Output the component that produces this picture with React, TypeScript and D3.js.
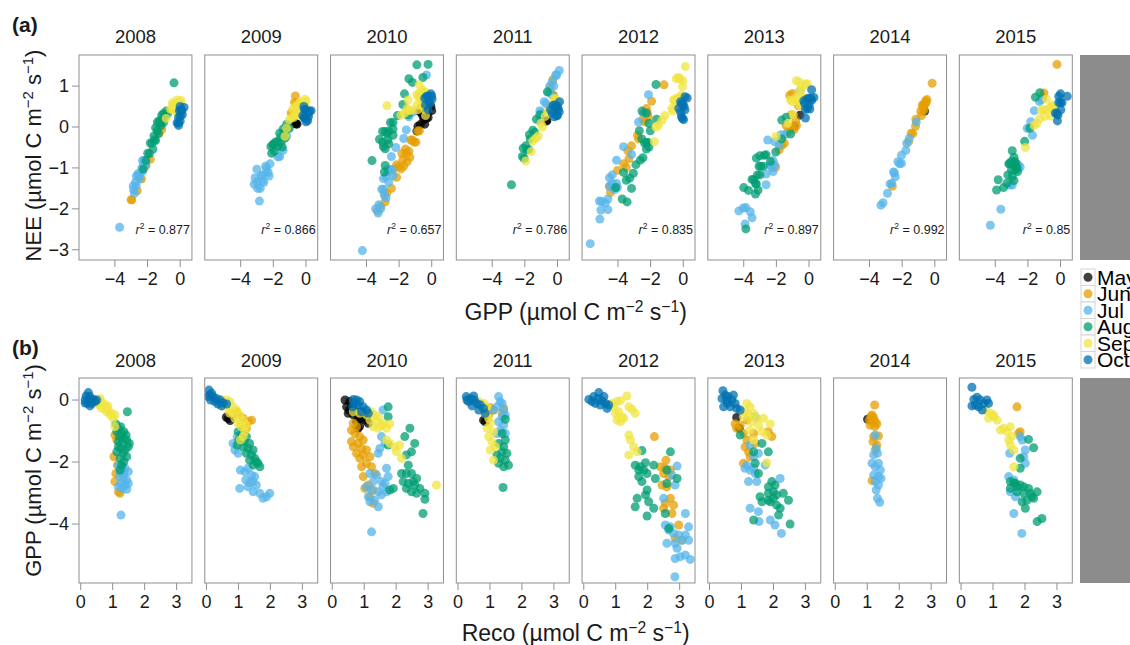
import React from "react";
import * as d3 from "d3";

// month, GPP, Reco, NEE  (µmol C m-2 s-1)
type Obs = [string, number, number, number];

const months = ["May", "Jun", "Jul", "Aug", "Sep", "Oct"];
const monthColors = ["#000000", "#E69F00", "#56B4E9", "#009E73", "#F0E442", "#0072B2"];
const years = [2008, 2009, 2010, 2011, 2012, 2013, 2014, 2015];
const r2Labels = ["0.877", "0.866", "0.657", "0.786", "0.835", "0.897", "0.992", "0.85"];
const neeTicks = [1, 0, -1, -2, -3];
const gppTicksTop = [-4, -2, 0];
const gppTicksBottom = [0, -2, -4];
const recoTicks = [0, 1, 2, 3];

const obs2008: Obs[] = [
  ["Oct", 0.24, 0.24, 0.48], ["Oct", 0.13, 0.17, 0.3], ["Oct", 0.11, 0.29, 0.4], ["Oct", 0.0, 0.14, 0.14],
  ["Oct", 0.0, 0.27, 0.27], ["Oct", 0.02, 0.4, 0.42], ["Oct", -0.11, 0.21, 0.1], ["Oct", -0.11, 0.34, 0.23],
  ["Oct", -0.1, 0.14, 0.04], ["Oct", -0.05, 0.45, 0.4], ["Oct", -0.19, 0.29, 0.1], ["Oct", 0.0, 0.5, 0.5],
  ["Sep", 0.0, 0.45, 0.45], ["Sep", -0.05, 0.55, 0.5], ["Sep", -0.16, 0.6, 0.44], ["Sep", -0.11, 0.71, 0.6],
  ["Sep", -0.27, 0.66, 0.39], ["Sep", -0.24, 0.79, 0.55], ["Sep", -0.32, 0.86, 0.54], ["Sep", -0.19, 0.85, 0.66],
  ["Sep", -0.43, 0.97, 0.54], ["Sep", -0.38, 0.81, 0.43], ["Sep", -0.48, 1.07, 0.59], ["Sep", -0.59, 1.02, 0.43],
  ["Sep", -0.02, 0.62, 0.6], ["Sep", 0.05, 0.6, 0.65], ["Sep", -0.86, 1.07, 0.21], ["Sep", -0.13, 0.5, 0.37],
  ["Sep", -0.48, 0.92, 0.44],
  ["Aug", -0.77, 1.1, 0.33], ["Aug", -0.91, 1.18, 0.27], ["Aug", -0.86, 1.25, 0.39], ["Aug", -1.02, 1.13, 0.11],
  ["Aug", -1.08, 1.28, 0.2], ["Aug", -1.02, 1.35, 0.33], ["Aug", -1.18, 1.21, 0.03], ["Aug", -1.24, 1.33, 0.09],
  ["Aug", -1.29, 1.44, 0.15], ["Aug", -1.34, 1.18, -0.16], ["Aug", -1.4, 1.31, -0.09], ["Aug", -1.51, 1.49, -0.02],
  ["Aug", -1.56, 1.25, -0.31], ["Aug", -1.61, 1.39, -0.22], ["Aug", -1.67, 1.13, -0.54], ["Aug", -1.72, 1.33, -0.39],
  ["Aug", -1.83, 1.44, -0.39], ["Aug", -1.88, 1.23, -0.65], ["Aug", -1.99, 1.35, -0.64], ["Aug", -2.1, 1.28, -0.82],
  ["Aug", -0.38, 1.46, 1.08], ["Aug", -1.13, 1.42, 0.29], ["Aug", -1.4, 1.52, 0.12], ["Aug", -1.51, 1.18, -0.33],
  ["Aug", -2.26, 1.23, -1.03],
  ["Jun", -1.13, 1.07, -0.06], ["Jun", -1.29, 1.13, -0.16], ["Jun", -1.83, 1.04, -0.79], ["Jun", -2.37, 1.1, -1.27],
  ["Jun", -2.63, 1.07, -1.56], ["Jun", -2.96, 1.18, -1.78], ["Jun", -3.01, 1.23, -1.78], ["Jun", -2.1, 1.15, -0.95],
  ["Jul", -2.1, 1.18, -0.92], ["Jul", -2.15, 1.28, -0.87], ["Jul", -2.2, 1.39, -0.81], ["Jul", -2.31, 1.23, -1.08],
  ["Jul", -2.37, 1.35, -1.02], ["Jul", -2.31, 1.49, -0.82], ["Jul", -2.47, 1.21, -1.26], ["Jul", -2.53, 1.33, -1.2],
  ["Jul", -2.58, 1.44, -1.14], ["Jul", -2.69, 1.25, -1.44], ["Jul", -2.74, 1.39, -1.35], ["Jul", -2.69, 1.49, -1.2],
  ["Jul", -2.85, 1.31, -1.54], ["Jul", -2.88, 1.44, -1.44], ["Jul", -2.8, 1.18, -1.62], ["Jul", -3.71, 1.26, -2.45],
  ["Jul", -2.26, 1.33, -0.93],
];

const obs2009: Obs[] = [
  ["May", -0.6, 0.68, 0.08], ["May", -0.66, 0.74, 0.08], ["May", -0.55, 0.62, 0.07],
  ["Jun", -0.43, 0.83, 0.4], ["Jun", -0.48, 0.99, 0.51], ["Jun", -0.59, 1.15, 0.56], ["Jun", -0.7, 1.3, 0.6],
  ["Jun", -0.65, 1.41, 0.76], ["Jun", -0.91, 1.25, 0.34], ["Jun", -0.81, 1.09, 0.28], ["Jun", -0.38, 0.94, 0.56],
  ["Jul", -1.18, 0.96, -0.22], ["Jul", -1.29, 1.04, -0.25], ["Jul", -1.61, 0.89, -0.72], ["Jul", -1.72, 0.99, -0.73],
  ["Jul", -2.26, 1.06, -1.2], ["Jul", -2.31, 1.2, -1.11], ["Jul", -2.2, 1.3, -0.9], ["Jul", -2.42, 1.41, -1.01],
  ["Jul", -2.58, 1.23, -1.35], ["Jul", -2.63, 1.46, -1.17], ["Jul", -2.74, 1.56, -1.18], ["Jul", -2.8, 1.3, -1.5],
  ["Jul", -2.96, 1.46, -1.5], ["Jul", -3.01, 1.67, -1.34], ["Jul", -3.17, 1.77, -1.4], ["Jul", -3.12, 1.88, -1.24],
  ["Jul", -3.01, 1.98, -1.03], ["Jul", -2.85, 1.04, -1.81], ["Jul", -2.67, 1.35, -1.32], ["Jul", -1.4, 0.83, -0.57],
  ["Jul", -2.47, 1.51, -0.96],
  ["Aug", -1.02, 0.99, -0.03], ["Aug", -1.13, 1.09, -0.04], ["Aug", -1.18, 1.25, 0.07], ["Aug", -1.29, 1.02, -0.27],
  ["Aug", -1.34, 1.18, -0.16], ["Aug", -1.4, 1.35, -0.05], ["Aug", -1.51, 1.15, -0.36], ["Aug", -1.56, 1.3, -0.26],
  ["Aug", -1.61, 1.46, -0.15], ["Aug", -1.72, 1.25, -0.47], ["Aug", -1.77, 1.41, -0.36], ["Aug", -1.88, 1.51, -0.37],
  ["Aug", -1.94, 1.35, -0.59], ["Aug", -1.99, 1.56, -0.43], ["Aug", -2.1, 1.46, -0.64], ["Aug", -2.04, 1.61, -0.43],
  ["Aug", -1.45, 0.96, -0.49], ["Aug", -2.15, 1.67, -0.48],
  ["Sep", 0.02, 0.47, 0.49], ["Sep", 0.0, 0.63, 0.63], ["Sep", -0.05, 0.73, 0.68], ["Sep", -0.22, 0.57, 0.35],
  ["Sep", -0.22, 0.83, 0.61], ["Sep", -0.32, 0.94, 0.62], ["Sep", -0.43, 0.73, 0.3], ["Sep", -0.48, 1.04, 0.56],
  ["Sep", -0.59, 0.89, 0.3], ["Sep", -0.65, 1.15, 0.5], ["Sep", -0.75, 0.99, 0.24], ["Sep", -0.81, 1.25, 0.44],
  ["Sep", -0.86, 1.09, 0.23], ["Sep", -1.02, 1.2, 0.18], ["Sep", -1.18, 1.15, -0.03], ["Sep", -1.29, 1.06, -0.23],
  ["Sep", -0.38, 0.78, 0.4],
  ["Oct", 0.32, 0.08, 0.4], ["Oct", 0.22, 0.16, 0.38], ["Oct", 0.11, 0.05, 0.16], ["Oct", 0.11, 0.21, 0.32],
  ["Oct", 0.05, 0.31, 0.36], ["Oct", 0.0, 0.42, 0.42], ["Oct", 0.0, 0.13, 0.13], ["Oct", -0.05, 0.26, 0.21],
  ["Oct", -0.09, 0.52, 0.43], ["Oct", -0.13, 0.63, 0.5], ["Oct", -0.13, 0.36, 0.23], ["Oct", 0.16, 0.1, 0.26],
  ["Oct", -0.19, 0.47, 0.28],
];

const obs2010: Obs[] = [
  ["May", 0.0, 0.4, 0.4], ["May", -0.05, 0.55, 0.5], ["May", -0.22, 0.45, 0.23], ["May", -0.27, 0.6, 0.33],
  ["May", -0.38, 0.71, 0.33], ["May", -0.43, 0.5, 0.07], ["May", -0.48, 0.66, 0.18], ["May", -0.54, 0.81, 0.27],
  ["May", -0.59, 0.92, 0.33], ["May", -0.65, 1.02, 0.37], ["May", -0.7, 0.76, 0.06], ["May", -0.75, 1.13, 0.38],
  ["May", -0.84, 0.86, 0.02], ["May", -0.59, 1.07, 0.48], ["May", -0.48, 1.0, 0.52], ["May", -0.38, 0.9, 0.52],
  ["May", -0.32, 0.53, 0.21], ["May", -0.91, 0.81, -0.1],
  ["Jun", -0.75, 0.66, -0.09], ["Jun", -0.86, 0.76, -0.1], ["Jun", -0.97, 0.6, -0.37], ["Jun", -1.08, 0.71, -0.37],
  ["Jun", -1.18, 0.86, -0.32], ["Jun", -1.29, 0.97, -0.32], ["Jun", -1.4, 0.81, -0.59], ["Jun", -1.51, 0.66, -0.85],
  ["Jun", -1.56, 0.92, -0.64], ["Jun", -1.61, 1.07, -0.54], ["Jun", -1.72, 0.76, -0.96], ["Jun", -1.77, 0.97, -0.8],
  ["Jun", -1.83, 1.18, -0.65], ["Jun", -1.88, 0.86, -1.02], ["Jun", -2.04, 1.07, -0.97], ["Jun", -2.15, 0.92, -1.23],
  ["Jun", -2.15, 1.23, -0.92], ["Jun", -2.37, 1.33, -1.04], ["Jun", -2.47, 0.97, -1.5], ["Jun", -2.74, 1.13, -1.61],
  ["Jun", -2.9, 1.28, -1.62], ["Jun", -3.12, 1.18, -1.94], ["Jun", -3.33, 1.28, -2.05], ["Jun", -2.85, 1.02, -1.83],
  ["Jun", -1.34, 0.6, -0.74],
  ["Jul", -1.18, 1.54, 0.36], ["Jul", -1.4, 1.65, 0.25], ["Jul", -1.56, 1.49, -0.07], ["Jul", -1.72, 1.44, -0.28],
  ["Jul", -2.2, 1.7, -0.5], ["Jul", -2.37, 1.18, -1.19], ["Jul", -2.42, 1.39, -1.03], ["Jul", -2.63, 1.28, -1.35],
  ["Jul", -2.63, 1.54, -1.09], ["Jul", -2.69, 1.65, -1.04], ["Jul", -2.8, 1.07, -1.73], ["Jul", -2.9, 1.23, -1.67],
  ["Jul", -2.96, 1.44, -1.52], ["Jul", -2.96, 1.7, -1.26], ["Jul", -3.12, 1.13, -1.99], ["Jul", -3.23, 1.33, -1.9],
  ["Jul", -3.06, 1.54, -1.52], ["Jul", -3.28, 1.18, -2.1], ["Jul", -3.44, 1.44, -2.0], ["Jul", -4.25, 1.23, -3.02],
  ["Jul", -2.47, 1.75, -0.72], ["Jul", -2.8, 1.59, -1.21], ["Jul", -0.32, 1.59, 1.27],
  ["Aug", -0.22, 1.75, 1.53], ["Aug", -0.54, 1.75, 1.21], ["Aug", -0.91, 2.43, 1.52], ["Aug", -1.18, 2.27, 1.09],
  ["Aug", -1.4, 2.58, 1.18], ["Aug", -1.67, 2.48, 0.81], ["Aug", -1.77, 2.32, 0.55], ["Aug", -2.1, 2.38, 0.28],
  ["Aug", -2.37, 2.17, -0.2], ["Aug", -2.37, 2.32, -0.05], ["Aug", -2.37, 2.48, 0.11], ["Aug", -2.53, 2.64, 0.11],
  ["Aug", -2.63, 2.22, -0.41], ["Aug", -2.69, 2.38, -0.31], ["Aug", -2.74, 2.58, -0.16], ["Aug", -2.85, 2.74, -0.11],
  ["Aug", -2.96, 2.48, -0.48], ["Aug", -3.01, 2.64, -0.37], ["Aug", -3.01, 2.9, -0.11], ["Aug", -3.2, 2.9, -0.3],
  ["Aug", -2.85, 2.32, -0.53], ["Aug", -2.9, 1.8, -1.1], ["Aug", -2.85, 1.91, -0.94], ["Aug", -3.66, 2.84, -0.82],
  ["Aug", -1.45, 1.75, 0.3], ["Aug", -2.63, 2.53, -0.1],
  ["Sep", -0.38, 0.66, 0.28], ["Sep", -0.43, 0.86, 0.43], ["Sep", -0.48, 1.07, 0.59], ["Sep", -0.38, 1.23, 0.85],
  ["Sep", -0.48, 1.33, 0.85], ["Sep", -0.54, 1.44, 0.9], ["Sep", -0.65, 1.18, 0.53], ["Sep", -0.7, 1.39, 0.69],
  ["Sep", -0.81, 1.54, 0.73], ["Sep", -0.86, 1.28, 0.42], ["Sep", -0.91, 1.44, 0.53], ["Sep", -0.91, 1.7, 0.79],
  ["Sep", -0.75, 1.59, 0.84], ["Sep", -1.4, 1.8, 0.4], ["Sep", -1.51, 1.96, 0.45], ["Sep", -1.45, 2.11, 0.66],
  ["Sep", -1.67, 2.01, 0.34], ["Sep", -1.88, 2.17, 0.29], ["Sep", -2.74, 3.26, 0.52], ["Sep", -1.29, 1.7, 0.41],
  ["Sep", -0.77, 1.8, 1.03],
  ["Oct", 0.02, 0.66, 0.68], ["Oct", 0.0, 0.76, 0.76], ["Oct", -0.05, 0.86, 0.81], ["Oct", -0.13, 0.71, 0.58],
  ["Oct", -0.16, 0.81, 0.65], ["Oct", -0.22, 0.97, 0.75], ["Oct", -0.32, 1.07, 0.75], ["Oct", -0.38, 0.92, 0.54],
  ["Oct", -0.43, 1.13, 0.7], ["Oct", -0.22, 0.64, 0.42],
];

const obs2011: Obs[] = [
  ["May", -0.65, 0.8, 0.15], ["May", -0.7, 0.85, 0.15],
  ["Jun", -0.24, 1.01, 0.77], ["Jun", -0.32, 1.11, 0.79], ["Jun", -0.27, 1.43, 1.16], ["Jun", -0.48, 0.96, 0.48],
  ["Jun", -0.43, 1.38, 0.95],
  ["Jul", 0.11, 1.27, 1.38], ["Jul", -0.05, 1.32, 1.27], ["Jul", -0.22, 1.22, 1.0], ["Jul", -0.32, 1.43, 1.11],
  ["Jul", -0.54, 1.38, 0.84], ["Jul", -0.48, 1.48, 1.0], ["Jul", -0.7, 1.27, 0.57], ["Jul", -0.81, 1.43, 0.62],
  ["Jul", -0.97, 1.32, 0.35], ["Jul", -1.08, 1.22, 0.14], ["Jul", -1.08, 1.48, 0.4], ["Jul", -0.32, 1.11, 0.79],
  ["Jul", -0.11, 1.38, 1.27],
  ["Aug", -0.62, 1.48, 0.86], ["Aug", -1.08, 1.38, 0.3], ["Aug", -1.4, 1.27, -0.13], ["Aug", -1.51, 1.43, -0.08],
  ["Aug", -1.67, 1.38, -0.29], ["Aug", -1.72, 1.53, -0.19], ["Aug", -1.77, 1.22, -0.55], ["Aug", -1.88, 1.32, -0.56],
  ["Aug", -1.94, 1.48, -0.46], ["Aug", -2.1, 1.58, -0.52], ["Aug", -2.04, 1.27, -0.77], ["Aug", -2.15, 1.43, -0.72],
  ["Aug", -1.29, 1.48, 0.19], ["Aug", -2.82, 1.41, -1.41],
  ["Sep", -0.05, 0.65, 0.6], ["Sep", -0.11, 0.8, 0.69], ["Sep", -0.22, 0.91, 0.69], ["Sep", -0.43, 0.85, 0.42],
  ["Sep", -0.59, 0.96, 0.37], ["Sep", -0.75, 1.01, 0.26], ["Sep", -0.91, 0.91, 0.0], ["Sep", -1.02, 1.11, 0.09],
  ["Sep", -1.18, 0.96, -0.22], ["Sep", -1.34, 1.06, -0.28], ["Sep", -1.51, 1.17, -0.34], ["Sep", -1.61, 1.01, -0.6],
  ["Sep", -1.94, 1.11, -0.83],
  ["Oct", 0.11, 0.26, 0.37], ["Oct", 0.05, 0.39, 0.44], ["Oct", 0.0, 0.51, 0.51], ["Oct", -0.05, 0.33, 0.28],
  ["Oct", -0.11, 0.59, 0.48], ["Oct", -0.16, 0.7, 0.54], ["Oct", -0.19, 0.44, 0.25], ["Oct", -0.27, 0.8, 0.53],
  ["Oct", -0.32, 0.65, 0.33], ["Oct", -0.43, 0.85, 0.42], ["Oct", 0.0, 0.28, 0.28], ["Oct", 0.13, 0.49, 0.62],
];

const obs2012: Obs[] = [
  ["Jun", -1.18, 2.21, 1.03], ["Jun", -1.94, 2.57, 0.63], ["Jun", -2.15, 2.4, 0.25], ["Jun", -2.2, 2.55, 0.35],
  ["Jun", -2.26, 2.71, 0.45], ["Jun", -2.37, 2.5, 0.13], ["Jun", -2.47, 2.66, 0.19], ["Jun", -2.74, 2.45, -0.29],
  ["Jun", -2.8, 2.6, -0.2], ["Jun", -3.17, 2.71, -0.46], ["Jun", -3.33, 2.55, -0.78], ["Jun", -3.39, 2.81, -0.58],
  ["Jun", -3.49, 2.5, -0.99], ["Jun", -3.66, 2.76, -0.9], ["Jun", -4.03, 2.97, -1.06], ["Jun", -4.52, 3.07, -1.45],
  ["Jun", -4.46, 2.86, -1.6],
  ["Jul", -2.13, 2.92, 0.79], ["Jul", -2.42, 2.76, 0.34], ["Jul", -2.74, 2.86, 0.12], ["Jul", -3.17, 2.5, -0.67],
  ["Jul", -3.66, 3.18, -0.48], ["Jul", -4.09, 3.28, -0.81], ["Jul", -4.03, 2.55, -1.48], ["Jul", -4.09, 2.71, -1.38],
  ["Jul", -4.19, 2.66, -1.53], ["Jul", -4.3, 2.81, -1.49], ["Jul", -4.35, 2.97, -1.38], ["Jul", -4.62, 2.6, -2.02],
  ["Jul", -4.62, 2.86, -1.76], ["Jul", -4.52, 3.07, -1.45], ["Jul", -4.52, 3.28, -1.24], ["Jul", -4.35, 3.18, -1.17],
  ["Jul", -4.78, 2.92, -1.86], ["Jul", -5.11, 2.86, -2.25], ["Jul", -5.05, 3.02, -2.03], ["Jul", -5.0, 3.18, -1.82],
  ["Jul", -5.14, 3.33, -1.81], ["Jul", -5.7, 2.85, -2.85],
  ["Aug", -1.63, 1.82, 0.19], ["Aug", -1.67, 2.71, 1.04], ["Aug", -2.1, 1.61, -0.49], ["Aug", -2.15, 1.77, -0.38],
  ["Aug", -2.02, 1.93, -0.09], ["Aug", -2.26, 1.88, -0.38], ["Aug", -2.47, 1.72, -0.75], ["Aug", -2.37, 1.98, -0.39],
  ["Aug", -2.63, 1.82, -0.81], ["Aug", -2.53, 2.24, -0.29], ["Aug", -2.1, 2.19, 0.09], ["Aug", -2.53, 2.92, 0.39],
  ["Aug", -3.17, 1.67, -1.5], ["Aug", -3.06, 1.93, -1.13], ["Aug", -2.9, 1.98, -0.92], ["Aug", -3.28, 2.03, -1.25],
  ["Aug", -3.44, 1.61, -1.83], ["Aug", -3.49, 2.19, -1.3], ["Aug", -3.74, 1.98, -1.76], ["Aug", -3.66, 2.55, -1.11],
  ["Aug", -4.14, 2.66, -1.48], ["Aug", -2.69, 2.6, -0.09], ["Aug", -2.26, 1.72, -0.54], ["Aug", -2.26, 2.6, 0.34],
  ["Sep", -0.11, 0.89, 0.78], ["Sep", -0.05, 1.04, 0.99], ["Sep", -0.02, 1.15, 1.13], ["Sep", 0.13, 1.35, 1.48],
  ["Sep", -0.22, 1.41, 1.19], ["Sep", -0.3, 1.51, 1.21], ["Sep", -0.43, 1.61, 1.18], ["Sep", -0.38, 1.09, 0.71],
  ["Sep", -0.54, 1.2, 0.66], ["Sep", -0.65, 1.04, 0.39], ["Sep", -0.7, 1.15, 0.45], ["Sep", -0.59, 1.25, 0.66],
  ["Sep", -1.13, 1.41, 0.28], ["Sep", -1.29, 1.46, 0.17], ["Sep", -1.51, 1.56, 0.05], ["Sep", -1.67, 1.67, 0.0],
  ["Sep", -1.77, 1.41, -0.36], ["Sep", -0.22, 0.94, 0.72], ["Sep", -0.43, 0.99, 0.56],
  ["Oct", 0.02, 0.16, 0.18], ["Oct", 0.11, 0.31, 0.42], ["Oct", 0.24, 0.47, 0.71], ["Oct", 0.05, 0.45, 0.5],
  ["Oct", -0.02, 0.57, 0.55], ["Oct", -0.11, 0.68, 0.57], ["Oct", -0.11, 0.36, 0.25], ["Oct", -0.16, 0.52, 0.36],
  ["Oct", -0.27, 0.73, 0.46], ["Oct", 0.11, 0.63, 0.74], ["Oct", -0.05, 0.26, 0.21], ["Oct", -0.16, 0.78, 0.62],
];

const obs2013: Obs[] = [
  ["May", -0.56, 0.85, 0.29], ["May", -0.91, 0.93, 0.02],
  ["Jun", -0.77, 0.8, 0.03], ["Jun", -0.81, 0.96, 0.15], ["Jun", -0.91, 0.85, -0.06], ["Jun", -1.08, 1.06, -0.02],
  ["Jun", -1.29, 1.17, -0.12], ["Jun", -1.51, 1.11, -0.4], ["Jun", -1.67, 1.22, -0.45], ["Jun", -1.83, 1.27, -0.56],
  ["Jun", -2.04, 1.06, -0.98], ["Jun", -1.02, 1.84, 0.82], ["Jun", -1.18, 1.95, 0.77], ["Jun", -1.08, 1.38, 0.3],
  ["Jun", -1.4, 1.43, 0.03], ["Jun", -0.65, 1.17, 0.52],
  ["Jul", -0.54, 1.43, 0.89], ["Jul", -1.45, 1.27, -0.18], ["Jul", -1.72, 1.53, -0.19], ["Jul", -2.1, 1.17, -0.93],
  ["Jul", -2.26, 1.27, -0.99], ["Jul", -2.2, 1.11, -1.09], ["Jul", -2.2, 1.38, -0.82], ["Jul", -2.37, 1.43, -0.94],
  ["Jul", -2.63, 1.22, -1.41], ["Jul", -2.63, 1.48, -1.15], ["Jul", -2.1, 1.74, -0.36], ["Jul", -2.53, 2.21, -0.32],
  ["Jul", -3.49, 1.27, -2.22], ["Jul", -3.6, 1.53, -2.07], ["Jul", -3.87, 1.9, -1.97], ["Jul", -4.03, 2.05, -1.98],
  ["Jul", -4.3, 2.25, -2.05], ["Jul", -3.92, 1.55, -2.37], ["Jul", -1.83, 1.38, -0.45],
  ["Aug", -1.13, 0.96, -0.17], ["Aug", -1.67, 1.38, -0.29], ["Aug", -1.4, 1.64, 0.24], ["Aug", -1.67, 1.84, 0.17],
  ["Aug", -2.63, 1.95, -0.68], ["Aug", -2.8, 1.84, -0.96], ["Aug", -2.74, 2.05, -0.69], ["Aug", -2.96, 2.0, -0.96],
  ["Aug", -3.06, 2.1, -0.96], ["Aug", -3.01, 1.84, -1.17], ["Aug", -3.01, 2.31, -0.7], ["Aug", -3.23, 2.47, -0.76],
  ["Aug", -3.12, 1.58, -1.54], ["Aug", -3.28, 1.64, -1.64], ["Aug", -3.28, 1.9, -1.38], ["Aug", -3.39, 2.1, -1.29],
  ["Aug", -3.23, 1.84, -1.39], ["Aug", -3.71, 2.16, -1.55], ["Aug", -4.0, 2.52, -1.48], ["Aug", -3.87, 1.38, -2.49],
  ["Aug", -2.04, 1.43, -0.61], ["Aug", -2.37, 1.53, -0.84], ["Aug", -3.17, 2.0, -1.17], ["Aug", -3.49, 2.21, -1.28],
  ["Sep", -0.11, 1.17, 1.06], ["Sep", -0.22, 1.27, 1.05], ["Sep", -0.38, 1.11, 0.73], ["Sep", -0.43, 1.38, 0.95],
  ["Sep", -0.48, 1.22, 0.74], ["Sep", -0.59, 1.48, 0.89], ["Sep", -0.59, 1.69, 1.1], ["Sep", -0.7, 1.32, 0.62],
  ["Sep", -0.81, 1.53, 0.72], ["Sep", -0.77, 1.9, 1.13], ["Sep", -0.97, 1.27, 0.3], ["Sep", -1.02, 1.64, 0.62],
  ["Sep", -1.13, 1.79, 0.66], ["Sep", -1.29, 1.38, 0.09], ["Sep", -2.02, 1.79, -0.23], ["Sep", -0.54, 1.06, 0.52],
  ["Oct", 0.3, 0.42, 0.72], ["Oct", 0.16, 0.49, 0.65], ["Oct", 0.11, 0.59, 0.7], ["Oct", 0.05, 0.39, 0.44],
  ["Oct", 0.0, 0.54, 0.54], ["Oct", 0.0, 0.7, 0.7], ["Oct", -0.11, 0.8, 0.69], ["Oct", -0.22, 0.44, 0.22],
  ["Oct", -0.22, 0.65, 0.43], ["Oct", -0.27, 0.85, 0.58], ["Oct", -0.32, 0.96, 0.64], ["Oct", 0.16, 0.75, 0.91],
  ["Oct", -0.11, 0.56, 0.45],
];

const obs2014: Obs[] = [
  ["May", -0.62, 1.01, 0.39],
  ["Jun", -0.16, 1.23, 1.07], ["Jun", -0.48, 1.15, 0.67], ["Jun", -0.65, 1.07, 0.42], ["Jun", -0.56, 1.2, 0.64],
  ["Jun", -0.77, 1.3, 0.53], ["Jun", -0.81, 1.09, 0.28], ["Jun", -0.7, 1.25, 0.55], ["Jun", -1.18, 1.2, 0.02],
  ["Jun", -1.16, 1.35, 0.19], ["Jun", -1.34, 1.18, -0.16], ["Jun", -1.45, 1.3, -0.15], ["Jun", -1.61, 1.25, -0.36],
  ["Jun", -2.6, 1.15, -1.45], ["Jun", -0.52, 1.12, 0.6], ["Jun", -0.6, 1.16, 0.56], ["Jun", -0.73, 1.18, 0.45],
  ["Jun", -0.86, 1.24, 0.38],
  ["Jul", -1.13, 1.25, 0.12], ["Jul", -1.56, 1.28, -0.28], ["Jul", -1.72, 1.32, -0.4], ["Jul", -2.04, 1.15, -0.89],
  ["Jul", -2.04, 1.35, -0.69], ["Jul", -2.15, 1.25, -0.9], ["Jul", -2.42, 1.2, -1.22], ["Jul", -2.47, 1.35, -1.12],
  ["Jul", -2.53, 1.43, -1.1], ["Jul", -2.63, 1.25, -1.38], ["Jul", -2.74, 1.35, -1.39], ["Jul", -2.9, 1.28, -1.62],
  ["Jul", -3.17, 1.32, -1.85], ["Jul", -3.3, 1.39, -1.91], ["Jul", -2.26, 1.41, -0.85], ["Jul", -1.77, 1.2, -0.57],
];

const obs2015: Obs[] = [
  ["Jun", -0.22, 1.75, 1.53], ["Jun", -1.08, 1.8, 0.72], ["Jun", -1.02, 1.85, 0.83],
  ["Jul", -1.18, 1.85, 0.67], ["Jul", -1.61, 2.01, 0.4], ["Jul", -1.72, 1.52, -0.2], ["Jul", -1.83, 1.96, 0.13],
  ["Jul", -2.04, 2.01, -0.03], ["Jul", -2.47, 1.49, -0.98], ["Jul", -2.58, 1.65, -0.93], ["Jul", -2.96, 1.54, -1.42],
  ["Jul", -3.12, 1.7, -1.42], ["Jul", -3.66, 1.65, -2.01], ["Jul", -4.3, 1.9, -2.4], ["Jul", -1.29, 1.91, 0.62],
  ["Aug", -1.27, 2.11, 0.84], ["Aug", -1.54, 2.27, 0.73], ["Aug", -1.88, 1.85, -0.03], ["Aug", -2.2, 1.85, -0.35],
  ["Aug", -2.63, 1.54, -1.09], ["Aug", -2.69, 1.7, -0.99], ["Aug", -2.74, 1.85, -0.89], ["Aug", -2.8, 1.96, -0.84],
  ["Aug", -2.85, 2.11, -0.74], ["Aug", -2.85, 1.54, -1.31], ["Aug", -2.96, 1.75, -1.21], ["Aug", -3.01, 1.96, -1.05],
  ["Aug", -3.01, 2.17, -0.84], ["Aug", -2.96, 2.38, -0.58], ["Aug", -3.23, 2.06, -1.17], ["Aug", -3.17, 2.27, -0.9],
  ["Aug", -3.28, 1.91, -1.37], ["Aug", -3.49, 2.01, -1.48], ["Aug", -3.12, 2.22, -0.9], ["Aug", -3.92, 2.38, -1.54],
  ["Aug", -3.82, 2.53, -1.29], ["Aug", -2.8, 1.75, -1.05], ["Aug", -2.67, 1.65, -1.02],
  ["Sep", -0.32, 0.76, 0.44], ["Sep", -0.43, 0.92, 0.49], ["Sep", -0.48, 1.02, 0.54], ["Sep", -0.59, 0.86, 0.27],
  ["Sep", -0.65, 1.13, 0.48], ["Sep", -0.97, 1.23, 0.26], ["Sep", -0.91, 1.33, 0.42], ["Sep", -1.02, 1.44, 0.42],
  ["Sep", -0.86, 1.54, 0.68], ["Sep", -1.29, 1.49, 0.2], ["Sep", -1.18, 1.59, 0.41], ["Sep", -1.45, 1.54, 0.09],
  ["Sep", -1.61, 1.65, 0.04], ["Sep", -2.15, 1.65, -0.5], ["Sep", -0.54, 1.02, 0.48],
  ["Oct", 0.41, 0.34, 0.75], ["Oct", 0.02, 0.4, 0.42], ["Oct", 0.09, 0.5, 0.59], ["Oct", 0.0, 0.6, 0.6],
  ["Oct", -0.16, 0.45, 0.29], ["Oct", -0.22, 0.55, 0.33], ["Oct", -0.11, 0.71, 0.6], ["Oct", 0.0, 0.81, 0.81],
  ["Oct", -0.32, 0.66, 0.34], ["Oct", -0.19, 0.34, 0.15], ["Oct", -0.11, 0.86, 0.75],
];

const obsByYear = [obs2008, obs2009, obs2010, obs2011, obs2012, obs2013, obs2014, obs2015];

const FONT = "'Liberation Sans', Arial, Helvetica, sans-serif";
const TEXT = "#1a1a1a";
const FRAME = "#8f8f8f";

const W = 1130;
const H = 645;

const panelX = d3.scaleBand<number>().domain(years).range([79, 1072.3]).paddingInner(0.102);
const bw = panelX.bandwidth();

// row (a): NEE vs GPP
const xA = d3.scaleLinear().domain([-6.2, 0.72]).range([0, bw]);
const yA = d3.scaleLinear().domain([-3.25, 1.76]).range([260, 55]);
// row (b): GPP vs Reco
const xB = d3.scaleLinear().domain([-0.053, 3.48]).range([0, bw]);
const yB = d3.scaleLinear().domain([-5.9, 0.71]).range([583, 378]);

const color = d3.scaleOrdinal<string, string>().domain(months).range(monthColors);
const fmt = d3.format("d");

function Unit({ lead }: { lead: string }) {
  return (
    <>
      {lead} (µmol C m
      <tspan dy={-8} fontSize="0.68em">−2</tspan>
      <tspan dy={8}> s</tspan>
      <tspan dy={-8} fontSize="0.68em">−1</tspan>
      <tspan dy={8}>)</tspan>
    </>
  );
}

function Panel({ row, yi }: { row: "a" | "b"; yi: number }) {
  const yr = years[yi];
  const x0 = panelX(yr) as number;
  const xs = row === "a" ? xA : xB;
  const ys = row === "a" ? yA : yB;
  const top = ys.range()[1];
  const bottom = ys.range()[0];
  const xTicks = row === "a" ? gppTicksTop : recoTicks;
  // draw in month order so later months sit on top
  const pts = obsByYear[yi]
    .map((d, i) => ({ d, i }))
    .sort((p, q) => months.indexOf(p.d[0]) - months.indexOf(q.d[0]) || p.i - q.i)
    .map((p) => p.d);
  const clipId = `clip-${row}-${yr}`;
  return (
    <g>
      <clipPath id={clipId}>
        <rect x={x0} y={top} width={bw} height={bottom - top} />
      </clipPath>
      <text x={x0 + bw / 2} y={row === "a" ? 43 : 367} textAnchor="middle" fontSize={18.5} fill={TEXT}>
        {yr}
      </text>
      <g clipPath={`url(#${clipId})`}>
        {pts.map((d, i) => (
          <circle
            key={i}
            cx={x0 + xs(row === "a" ? d[1] : d[2])}
            cy={ys(row === "a" ? d[3] : d[1])}
            r={4.5}
            fill={color(d[0])}
            fillOpacity={0.75}
          />
        ))}
      </g>
      <rect x={x0} y={top} width={bw} height={bottom - top} fill="none" stroke={FRAME} strokeWidth={1} />
      {xTicks.map((t) => (
        <g key={t} transform={`translate(${x0 + xs(t)},${bottom})`}>
          <line y1={0} y2={7} stroke={FRAME} />
          <text y={25} textAnchor="middle" fontSize={18} fill={TEXT}>
            {fmt(t)}
          </text>
        </g>
      ))}
      {row === "a" && (
        <text x={x0 + bw - 2} y={234} textAnchor="end" fontSize={12.5} fill={TEXT}>
          <tspan fontStyle="italic">r</tspan>
          <tspan dy={-5} fontSize={8.5}>2</tspan>
          <tspan dy={5}> = {r2Labels[yi]}</tspan>
        </text>
      )}
    </g>
  );
}

function YAxis({ row }: { row: "a" | "b" }) {
  const ys = row === "a" ? yA : yB;
  const ticks = row === "a" ? neeTicks : gppTicksBottom;
  const x0 = panelX(years[0]) as number;
  return (
    <g>
      {ticks.map((t) => (
        <g key={t} transform={`translate(${x0},${ys(t)})`}>
          <line x1={-7} x2={0} stroke={FRAME} />
          <text x={-10} dy="0.35em" textAnchor="end" fontSize={18} fill={TEXT}>
            {fmt(t)}
          </text>
        </g>
      ))}
    </g>
  );
}

function Legend() {
  const x = 1081;
  const y0 = 269;
  const h = 16.5;
  return (
    <g>
      {months.map((m, i) => (
        <g key={m}>
          <rect x={x} y={y0 + i * h} width={14} height={h} fill="#fff" stroke="#d6d6d6" />
          <circle cx={x + 7} cy={y0 + i * h + h / 2} r={4.5} fill={color(m)} fillOpacity={0.75} />
        </g>
      ))}
      {months.map((m, i) => (
        <text key={m} x={x + 16} y={y0 + i * h + 15.5} fontSize={21} fill="#000">
          {m}
        </text>
      ))}
    </g>
  );
}

export default function App() {
  const midA = (yA.range()[0] + yA.range()[1]) / 2;
  const midB = (yB.range()[0] + yB.range()[1]) / 2;
  const midX = (79 + 1072.3) / 2;
  return (
    <svg
      width={W}
      height={H}
      viewBox={`0 0 ${W} ${H}`}
      style={{ position: "absolute", left: 0, top: 0, background: "#fff" }}
      fontFamily={FONT}
    >
      <rect width={W} height={H} fill="#fff" />
      <text x={12} y={32} fontSize={21} fontWeight="bold" fill={TEXT}>(a)</text>
      <text x={12} y={355} fontSize={21} fontWeight="bold" fill={TEXT}>(b)</text>

      {years.map((_, i) => (
        <Panel key={`a${i}`} row="a" yi={i} />
      ))}
      {years.map((_, i) => (
        <Panel key={`b${i}`} row="b" yi={i} />
      ))}
      <YAxis row="a" />
      <YAxis row="b" />

      <rect x={1080} y={55} width={60} height={205} fill="#8c8c8c" />
      <rect x={1080} y={378} width={60} height={205} fill="#8c8c8c" />

      <text transform={`translate(41,${midA - 2}) rotate(-90)`} textAnchor="middle" fontSize={22} fill={TEXT}>
        <Unit lead="NEE" />
      </text>
      <text transform={`translate(41,${midB - 10}) rotate(-90)`} textAnchor="middle" fontSize={22} fill={TEXT}>
        <Unit lead="GPP" />
      </text>
      <text x={midX} y={320} textAnchor="middle" fontSize={23} fill={TEXT}>
        <Unit lead="GPP" />
      </text>
      <text x={midX} y={641} textAnchor="middle" fontSize={23} fill={TEXT}>
        <Unit lead="Reco" />
      </text>

      <Legend />
    </svg>
  );
}
